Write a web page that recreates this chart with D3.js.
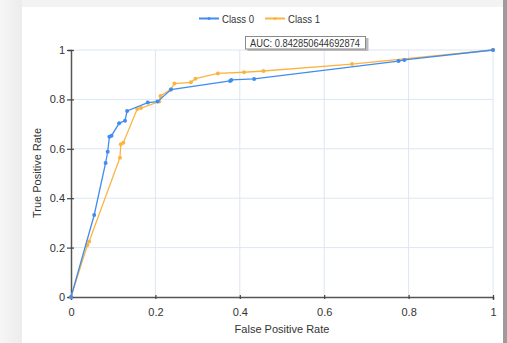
<!DOCTYPE html>
<html>
<head>
<meta charset="utf-8">
<script src="https://cdn.jsdelivr.net/npm/d3@7"></script>
<style>
  body { margin: 0; background: #f0f0f0; }
  svg { display: block; font-family: "Liberation Sans", "DejaVu Sans", sans-serif; }
</style>
</head>
<body>
<svg width="507" height="343"></svg>
<script>
// ROC points
var class0Fpr = [0, 0.055, 0.082, 0.087, 0.091, 0.096, 0.114, 0.128, 0.133, 0.182, 0.205, 0.237, 0.377, 0.380, 0.434, 0.776, 0.790, 1];
var class0Tpr = [0, 0.332, 0.543, 0.588, 0.649, 0.653, 0.703, 0.714, 0.753, 0.787, 0.791, 0.840, 0.875, 0.879, 0.883, 0.955, 0.960, 1];
var class1Fpr = [0, 0.039, 0.043, 0.116, 0.118, 0.124, 0.157, 0.166, 0.209, 0.212, 0.236, 0.245, 0.284, 0.295, 0.348, 0.410, 0.456, 0.666, 1];
var class1Tpr = [0, 0.211, 0.225, 0.564, 0.618, 0.625, 0.761, 0.765, 0.791, 0.814, 0.840, 0.864, 0.869, 0.884, 0.905, 0.910, 0.915, 0.943, 1];
var seriesNames = ["Class 0", "Class 1"];
var ticks = [0, 0.2, 0.4, 0.6, 0.8, 1];
var tickLabels = ["0", "0.2", "0.4", "0.6", "0.8", "1"];
var aucText = "AUC: 0.842850644692874";

var colors = ["#418CF0", "#FCB441"];

var svg = d3.select("svg");

// window background bits
var bg = svg.append("defs").append("linearGradient").attr("id", "lg");
bg.append("stop").attr("offset", "0%").attr("stop-color", "#f6f6f6");
bg.append("stop").attr("offset", "100%").attr("stop-color", "#ececec");
svg.append("rect").attr("width", 507).attr("height", 343).attr("fill", "#f3f3f3");
svg.append("rect").attr("x", 0).attr("y", 0).attr("width", 22).attr("height", 343).attr("fill", "url(#lg)");
svg.append("rect").attr("x", 22).attr("y", 7).attr("width", 481).attr("height", 336).attr("fill", "#fff");
svg.append("rect").attr("x", 503).attr("y", 0).attr("width", 4).attr("height", 343).attr("fill", "#9c9c9c");

var x = d3.scaleLinear().domain([0, 1]).range([71, 493]);
var y = d3.scaleLinear().domain([0, 1]).range([297, 50]);

// grid
svg.append("g").selectAll("line.v").data(ticks.slice(1)).join("line")
    .attr("x1", d => x(d)).attr("x2", d => x(d))
    .attr("y1", y(0)).attr("y2", y(1))
    .attr("stroke", "#dce6f2").attr("stroke-width", 1);
svg.append("g").selectAll("line.h").data(ticks.slice(1)).join("line")
    .attr("x1", x(0)).attr("x2", x(1))
    .attr("y1", d => y(d)).attr("y2", d => y(d))
    .attr("stroke", "#dce6f2").attr("stroke-width", 1);

// axes
var fmt = function(d) { return tickLabels[ticks.indexOf(d)]; };
var xAxis = svg.append("g").attr("transform", "translate(0," + y(0) + ")")
    .call(d3.axisBottom(x).tickValues(ticks).tickFormat(fmt).tickSize(3).tickPadding(8));
var yAxis = svg.append("g").attr("transform", "translate(" + x(0) + ",0)")
    .call(d3.axisLeft(y).tickValues(ticks).tickFormat(fmt).tickSize(3).tickPadding(3));
[xAxis, yAxis].forEach(function(a) {
    a.select(".domain").attr("stroke", "#555").attr("stroke-width", 1.5);
    a.selectAll(".tick line").attr("stroke", "#444").attr("stroke-width", 1.2);
    a.selectAll(".tick text").attr("fill", "#333").attr("font-size", 11);
});
xAxis.selectAll(".tick line").attr("y1", -2).attr("y2", 2);
yAxis.selectAll(".tick line").attr("x1", 3).attr("x2", -4);

svg.append("text").attr("x", 282).attr("y", 333).attr("text-anchor", "middle")
    .attr("font-size", 11).attr("fill", "#333").text("False Positive Rate");
svg.append("text").attr("transform", "translate(41,173) rotate(-90)").attr("text-anchor", "middle")
    .attr("font-size", 11).attr("fill", "#333").text("True Positive Rate");

// series
var series = [
    class0Fpr.map((v, i) => [v, class0Tpr[i]]),
    class1Fpr.map((v, i) => [v, class1Tpr[i]])
];
var line = d3.line().x(d => x(d[0])).y(d => y(d[1]));
[1, 0].forEach(function(s) {
    var g = svg.append("g");
    g.append("path").datum(series[s]).attr("d", line)
        .attr("fill", "none").attr("stroke", colors[s]).attr("stroke-width", 1.3);
    g.selectAll("circle").data(series[s]).join("circle")
        .attr("cx", d => x(d[0])).attr("cy", d => y(d[1])).attr("r", 2)
        .attr("fill", colors[s]);
});

// legend
var legX = [199, 265];
seriesNames.forEach(function(n, i) {
    svg.append("line").attr("x1", legX[i]).attr("x2", legX[i] + 20)
        .attr("y1", 18.5).attr("y2", 18.5).attr("stroke", colors[i]).attr("stroke-width", 2);
    svg.append("circle").attr("cx", legX[i] + 10).attr("cy", 18.5).attr("r", 1.5).attr("fill", colors[i]);
    svg.append("text").attr("x", legX[i] + 23).attr("y", 22.5).attr("font-size", 10.5)
        .attr("textLength", 32).attr("lengthAdjust", "spacingAndGlyphs")
        .attr("fill", "#333").text(n);
});

// AUC annotation
svg.append("rect").attr("x", 247.5).attr("y", 38).attr("width", 121).attr("height", 13)
    .attr("fill", "#bbb");
svg.append("rect").attr("x", 245.5).attr("y", 36.5).attr("width", 120).attr("height", 12.5)
    .attr("fill", "#fff").attr("stroke", "#8a8a8a").attr("stroke-width", 1);
svg.append("text").attr("x", 250).attr("y", 46.5).attr("font-size", 10.5)
    .attr("textLength", 110).attr("lengthAdjust", "spacingAndGlyphs")
    .attr("fill", "#333").text(aucText);
</script>
</body>
</html>
